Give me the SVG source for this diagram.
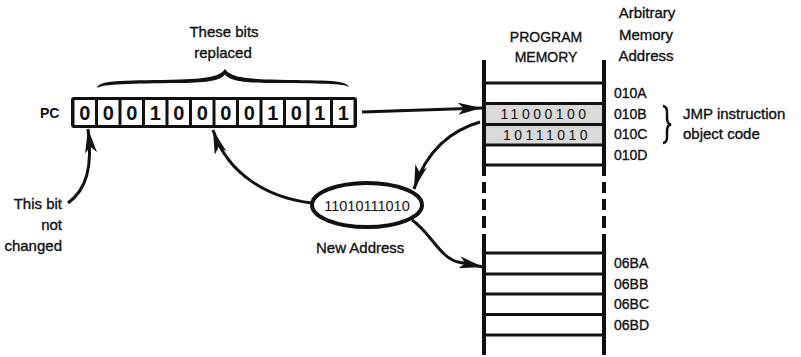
<svg xmlns="http://www.w3.org/2000/svg" width="801" height="357" viewBox="0 0 801 357">
<style>
text{font-family:"Liberation Sans",Arial,sans-serif;fill:#111;stroke:#111;stroke-width:0.35px;}
.lbl{font-size:15px;}
.addr{font-size:14px;}
.bit{font-size:20px;font-weight:bold;text-anchor:middle;stroke-width:0;}
.cell{fill:#fff;}
.mline{stroke:#111;stroke-width:3;fill:none;}
.vline{stroke:#111;stroke-width:4;fill:none;}
.conn{stroke:#111;stroke-width:3;fill:none;marker-end:url(#ah);}
.code{font-size:14px;letter-spacing:3.5px;text-anchor:middle;stroke-width:0;}
</style>
<defs>
<marker id="ah" markerUnits="userSpaceOnUse" markerWidth="26" markerHeight="12" refX="24" refY="6" orient="auto">
<path d="M0,0 L24,6 L0,12 L6,6 Z" fill="#111"/>
</marker>
</defs>
<rect width="801" height="357" fill="#fff"/>

<g id="pc-register">
<text x="40" y="118" style="font-size:14px;font-weight:bold;stroke-width:0;">PC</text>
<rect x="71" y="97" width="286" height="31" rx="3" fill="#111"/>
<rect class="cell" x="74.5" y="100" width="20.5" height="25"/>
<rect class="cell" x="98" y="100" width="20.5" height="25"/>
<rect class="cell" x="121.5" y="100" width="20.5" height="25"/>
<rect class="cell" x="145" y="100" width="20.5" height="25"/>
<rect class="cell" x="168.5" y="100" width="20.5" height="25"/>
<rect class="cell" x="192" y="100" width="20.5" height="25"/>
<rect class="cell" x="215.5" y="100" width="20.5" height="25"/>
<rect class="cell" x="239" y="100" width="20.5" height="25"/>
<rect class="cell" x="262.5" y="100" width="20.5" height="25"/>
<rect class="cell" x="286" y="100" width="20.5" height="25"/>
<rect class="cell" x="309.5" y="100" width="20.5" height="25"/>
<rect class="cell" x="333" y="100" width="20.5" height="25"/>
<text class="bit" x="84.75" y="120">0</text>
<text class="bit" x="108.25" y="120">0</text>
<text class="bit" x="131.75" y="120">0</text>
<text class="bit" x="155.25" y="120">1</text>
<text class="bit" x="178.75" y="120">0</text>
<text class="bit" x="202.25" y="120">0</text>
<text class="bit" x="225.75" y="120">0</text>
<text class="bit" x="249.25" y="120">0</text>
<text class="bit" x="272.75" y="120">1</text>
<text class="bit" x="296.25" y="120">0</text>
<text class="bit" x="319.75" y="120">1</text>
<text class="bit" x="343.25" y="120">1</text>
</g>

<g id="replaced-brace">
<text class="lbl" x="224" y="37" text-anchor="middle">These bits</text>
<text class="lbl" x="223" y="58" text-anchor="middle">replaced</text>
<path d="M97 88 C99 79,130 81,180 79.5 C210 78.5,220 76,225 69 C230 76,240 78.5,270 79.5 C320 81,346 79,349 87 C344 83.5,320 83.5,270 83 C240 82.5,230 80.5,225 74.5 C220 80.5,210 82.5,180 83 C130 83.5,103 84,97 88 Z" fill="#111"/>
</g>

<g id="program-memory">
<text x="546" y="42" text-anchor="middle" style="font-size:14px;">PROGRAM</text>
<text x="546" y="62" text-anchor="middle" style="font-size:14px;">MEMORY</text>
<rect x="485" y="104" width="118" height="20" fill="#d9d9d9"/>
<rect x="485" y="125.5" width="118" height="19" fill="#d9d9d9"/>
<path class="vline" d="M484 60 V176 M484 182 V193 M484 199 V210 M484 216 V228 M484 234 V355"/>
<path class="vline" d="M604 60 V176 M604 182 V193 M604 199 V210 M604 216 V228 M604 234 V355"/>
<path class="mline" d="M484 83 H604 M484 103.5 H604 M484 124.5 H604 M484 145 H604 M484 165 H604"/>
<path class="mline" d="M484 253 H604 M484 274 H604 M484 294 H604 M484 314.5 H604 M484 335 H604"/>
<text class="code" x="545" y="119">11000100</text>
<text class="code" x="547" y="140">10111010</text>
</g>

<g id="addresses">
<text class="lbl" x="647" y="18" text-anchor="middle">Arbitrary</text>
<text class="lbl" x="646" y="40" text-anchor="middle">Memory</text>
<text class="lbl" x="646" y="61" text-anchor="middle">Address</text>
<text class="addr" x="614" y="98">010A</text>
<text class="addr" x="614" y="119">010B</text>
<text class="addr" x="614" y="139">010C</text>
<text class="addr" x="614" y="160">010D</text>
<text class="addr" x="614" y="268">06BA</text>
<text class="addr" x="614" y="289">06BB</text>
<text class="addr" x="614" y="309">06BC</text>
<text class="addr" x="614" y="330">06BD</text>
</g>

<g id="jmp-note">
<path d="M663 106 C668 107,667 112,667 118 C667 122,668 124,671 124.5 C668 125,667 127,667 131 C667 138,668 142,663 143" stroke="#111" stroke-width="2.5" fill="none"/>
<text class="lbl" x="683" y="119">JMP instruction</text>
<text class="lbl" x="683" y="139">object code</text>
</g>

<g id="new-address">
<ellipse cx="367" cy="205" rx="55" ry="22" fill="#fff" stroke="#111" stroke-width="4"/>
<text x="367" y="211" text-anchor="middle" style="font-size:14.5px;stroke-width:0;">11010111010</text>
<text class="lbl" x="316" y="253">New Address</text>
</g>

<g id="unchanged-note">
<text class="lbl" x="62" y="209" text-anchor="end">This bit</text>
<text class="lbl" x="62" y="230" text-anchor="end">not</text>
<text class="lbl" x="62" y="251" text-anchor="end">changed</text>
</g>

<g id="connectors">
<path class="conn" d="M362 112 L482 108"/>
<path class="conn" d="M480 122 C452 130,426 150,414 189"/>
<path class="conn" d="M312 203 C270 198,228 176,213 130"/>
<path class="conn" d="M412 220 C430 232,440 258,458 262 L483 267"/>
<path class="conn" d="M68 203 C86 190,93 168,88 129"/>
</g>
</svg>
